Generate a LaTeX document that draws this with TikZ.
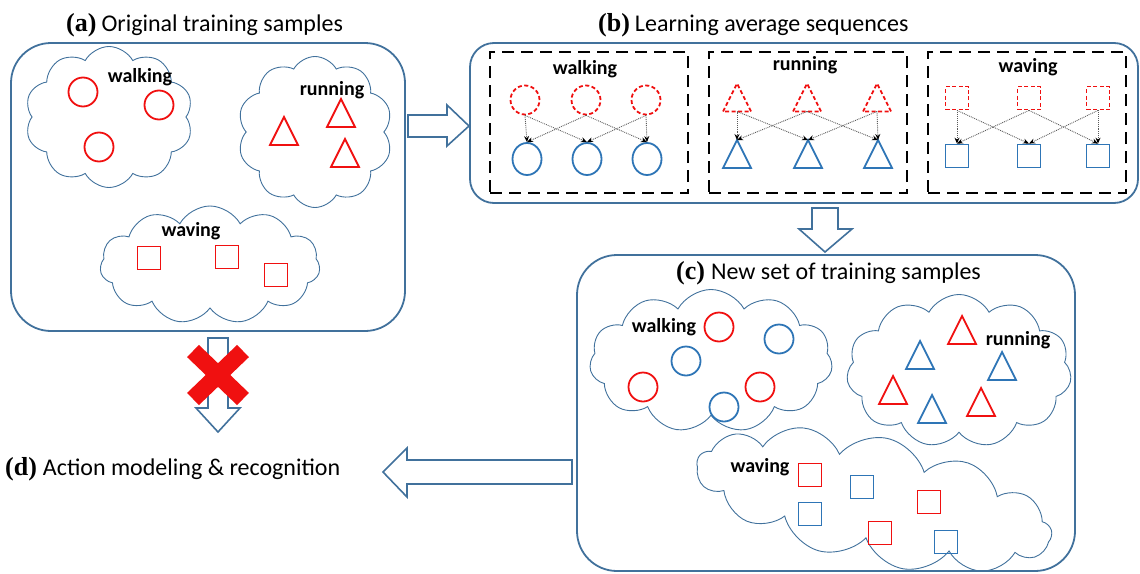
\documentclass[tikz,border=0pt]{standalone}
\usepackage{fontspec}
\setmainfont{Carlito}
\newfontfamily\tnr{Liberation Serif}
\usetikzlibrary{shapes.symbols,shapes.geometric,arrows.meta}
\definecolor{boxblue}{RGB}{65,113,156}
\definecolor{shpblue}{RGB}{46,117,182}
\definecolor{shpred}{RGB}{240,16,16}
\definecolor{dotgray}{RGB}{90,90,90}
\tikzset{
  tri/.pic={\draw[line join=miter] (-14,14) -- (0,-14) -- (14,14) -- cycle;
            \coordinate (-top) at (0,-14); \coordinate (-bot) at (0,14);},
}
\begin{document}
\begin{tikzpicture}[x=1pt,y=-1pt,
  panel/.style={rectangle, draw=boxblue, line width=1.8, rounded corners=#1, inner sep=0},
  dbox/.style={rectangle, draw=black, line width=2.4, dash pattern=on 12pt off 7pt, inner sep=0},
  cloudy/.style={cloud, cloud puffs=#1, cloud puff arc=122, cloud ignores aspect, draw=boxblue, line width=0.9, inner sep=0},
  lbl/.style={font=\fontsize{20}{24}\selectfont\bfseries, inner sep=0, anchor=base},
  ttl/.style={font=\fontsize{24}{28}\selectfont, inner sep=0, anchor=base west},
  rcirc/.style={circle, draw=shpred, line width=1.8, minimum size=29, inner sep=0},
  bcirc/.style={circle, draw=shpblue, line width=1.8, minimum size=29, inner sep=0},
  bell/.style={ellipse, draw=shpblue, line width=1.8, minimum width=29, minimum height=32, inner sep=0},
  rsq/.style={rectangle, draw=shpred, line width=1.8, minimum size=23, inner sep=0},
  bsq/.style={rectangle, draw=shpblue, line width=1.8, minimum size=23, inner sep=0},
  rdash/.style={dash pattern=on 4pt off 2.5pt},
  rtri/.style={color=shpred, line width=1.8},
  btri/.style={color=shpblue, line width=1.8},
  dotarrow/.style={draw=dotgray, line width=0.9, densely dotted, -{Stealth[length=6pt, width=5pt, black]}},
  barrow/.style={draw=boxblue, line width=1.6, fill=white, line join=miter},
]
\useasboundingbox (0,0) rectangle (1140,573);

% ---------- panels
\node[panel=40, minimum width=394, minimum height=288] (boxa) at (208,187) {};
\node[panel=24, minimum width=668, minimum height=160] (boxb) at (804,123) {};
\node[panel=40, minimum width=498, minimum height=316] (boxc) at (826,413) {};

% ---------- titles
\node[ttl] (ta) at (66,31) {{\tnr\bfseries\fontsize{26}{28}\selectfont (a)}\hspace{5pt}Original training samples};
\node[ttl] (tb) at (598,31) {{\tnr\bfseries\fontsize{26}{28}\selectfont (b)}\hspace{5pt}Learning average sequences};
\node[ttl] (tc) at (676,279) {{\tnr\bfseries\fontsize{26}{28}\selectfont (c)}\hspace{6pt}New set of training samples};
\node[ttl] (td) at (5,475) {{\tnr\bfseries\fontsize{26}{28}\selectfont (d)}\hspace{6pt}Action modeling \& recognition};

% ---------- panel (a)
\node[cloudy=10, minimum width=168, minimum height=141] (cwa) at (109,117) {};
\node[cloudy=10, minimum width=155, minimum height=151] (cra) at (315,132) {};
\node[cloudy=11, minimum width=220, minimum height=118] (csa) at (210,265) {};
\node[lbl] (lwa) at (140,82) {walking};
\node[lbl] (lra) at (332,95) {running};
\node[lbl] (lsa) at (191,236) {waving};
\node[rcirc] (a1) at (83,92) {};
\node[rcirc] (a2) at (159,105) {};
\node[rcirc] (a3) at (99,147) {};
\pic[rtri] (at1) at (284,131) {tri};
\pic[rtri] (at2) at (341,113) {tri};
\pic[rtri] (at3) at (345,153) {tri};
\node[rsq] (as1) at (149,258) {};
\node[rsq] (as2) at (227,257) {};
\node[rsq] (as3) at (276,275) {};

% ---------- panel (b)
\node[dbox, minimum width=198, minimum height=141] (db1) at (589,122.5) {};
\node[dbox, minimum width=198, minimum height=141] (db2) at (808,122.5) {};
\node[dbox, minimum width=198, minimum height=141] (db3) at (1027,122.5) {};
\node[lbl] (lwb) at (585,74) {walking};
\node[lbl] (lrb) at (805,70) {running};
\node[lbl] (lsb) at (1028,72) {waving};
% walking
\node[rcirc, rdash] (wt1) at (525,100) {};
\node[rcirc, rdash] (wt2) at (586,100) {};
\node[rcirc, rdash] (wt3) at (646,100) {};
\node[bell] (wb1) at (527,159) {};
\node[bell] (wb2) at (587,159) {};
\node[bell] (wb3) at (647,159) {};
% running
\pic[rtri, rdash] (rt1) at (737,97.5) {tri};
\pic[rtri, rdash] (rt2) at (807,97.5) {tri};
\pic[rtri, rdash] (rt3) at (877,97.5) {tri};
\pic[btri] (rb1) at (737,154) {tri};
\pic[btri] (rb2) at (808,154) {tri};
\pic[btri] (rb3) at (878,154) {tri};
% waving
\node[rsq, rdash] (st1) at (957,98) {};
\node[rsq, rdash] (st2) at (1029,98) {};
\node[rsq, rdash] (st3) at (1098,98) {};
\node[bsq] (sb1) at (957,156) {};
\node[bsq] (sb2) at (1029,156) {};
\node[bsq] (sb3) at (1098,156) {};
% dotted connectors
\draw[dotarrow] (wt1.south) -- (wb1.north);
\draw[dotarrow] (wt1.south) -- (wb2.north);
\draw[dotarrow] (wt2.south) -- (wb1.north);
\draw[dotarrow] (wt2.south) -- (wb3.north);
\draw[dotarrow] (wt3.south) -- (wb2.north);
\draw[dotarrow] (wt3.south) -- (wb3.north);
\draw[dotarrow] (rt1-bot) -- (rb1-top);
\draw[dotarrow] (rt1-bot) -- (rb2-top);
\draw[dotarrow] (rt2-bot) -- (rb1-top);
\draw[dotarrow] (rt2-bot) -- (rb3-top);
\draw[dotarrow] (rt3-bot) -- (rb2-top);
\draw[dotarrow] (rt3-bot) -- (rb3-top);
\draw[dotarrow] (st1.south) -- (sb1.north);
\draw[dotarrow] (st1.south) -- (sb2.north);
\draw[dotarrow] (st2.south) -- (sb1.north);
\draw[dotarrow] (st2.south) -- (sb3.north);
\draw[dotarrow] (st3.south) -- (sb2.north);
\draw[dotarrow] (st3.south) -- (sb3.north);

% ---------- panel (c)
\node[cloudy=11, minimum width=243, minimum height=143] (cwc) at (711,361) {};
\node[cloudy=11, minimum width=225, minimum height=153] (crc) at (959,371) {};
\node[cloudy=13, minimum width=362, minimum height=126, rotate=-12] (csc) at (874,500) {};
\node[lbl] (lwc) at (664,332) {walking};
\node[lbl] (lrc) at (1018,345) {running};
\node[lbl] (lsc) at (760,472) {waving};
\node[rcirc] (c1) at (719,327) {};
\node[bcirc] (c2) at (779,339) {};
\node[bcirc] (c3) at (686,361) {};
\node[rcirc] (c4) at (643,387) {};
\node[rcirc] (c5) at (760,387) {};
\node[bcirc] (c6) at (724,407) {};
\pic[rtri] (ct1) at (962,330) {tri};
\pic[btri] (ct2) at (920,355) {tri};
\pic[btri] (ct3) at (1002,366) {tri};
\pic[rtri] (ct4) at (893,390) {tri};
\pic[btri] (ct5) at (932,409) {tri};
\pic[rtri] (ct6) at (981,402) {tri};
\node[rsq] (cs1) at (810,475) {};
\node[bsq] (cs2) at (862,487) {};
\node[rsq] (cs3) at (929,502) {};
\node[bsq] (cs4) at (810,514) {};
\node[rsq] (cs5) at (880,533) {};
\node[bsq] (cs6) at (946,542) {};

% ---------- block arrows
\draw[barrow] (408,115) -- (447,115) -- (447,105) -- (469,126) -- (447,146) -- (447,137) -- (408,137) -- cycle;
\draw[barrow] (812,208) -- (838,208) -- (838,229) -- (852,229) -- (825,252) -- (799,229) -- (812,229) -- cycle;
\draw[barrow] (208,338) -- (228,338) -- (228,408) -- (240,408) -- (218,432) -- (196,408) -- (208,408) -- cycle;
\draw[barrow] (572,460) -- (407,460) -- (407,448) -- (383,472) -- (407,497) -- (407,484) -- (572,484) -- cycle;

% ---------- red cross
\draw[shpred, line width=17] (193,351) -- (243,399);
\draw[shpred, line width=17] (243,351) -- (193,399);
\end{tikzpicture}
\end{document}
